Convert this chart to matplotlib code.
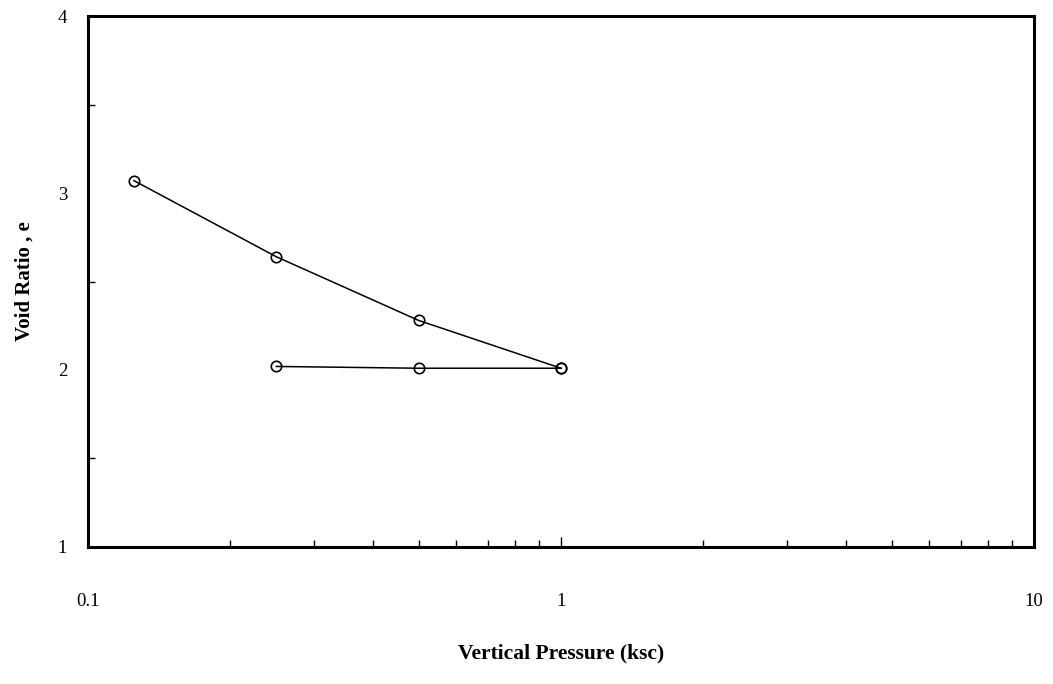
import matplotlib
matplotlib.use("Agg")
import matplotlib.pyplot as plt
from matplotlib.ticker import LogLocator, FixedLocator, NullFormatter, FixedFormatter

# Consolidation test: loading and unloading branches
load_pressure = [0.125, 0.25, 0.5, 1.0]
load_void_ratio = [3.07, 2.64, 2.28, 2.01]
unload_pressure = [1.0, 0.5, 0.25]
unload_void_ratio = [2.01, 2.01, 2.02]

x_ticks = [0.1, 1, 10]
x_tick_labels = ["0.1", "1", "10"]
y_ticks = [1, 2, 3, 4]
y_tick_labels = ["1", "2", "3", "4"]

plt.rcParams["font.family"] = ["Liberation Serif", "DejaVu Serif"]

fig = plt.figure(figsize=(10.53, 6.84), dpi=100)
ax = fig.add_axes([0.0836, 0.2003, 0.8984, 0.7763])

style = dict(color="black", linewidth=1.1, marker="o", markersize=7.5,
             markerfacecolor="none", markeredgecolor="black", markeredgewidth=1.2)
ax.plot(load_pressure, load_void_ratio, **style)
ax.plot(unload_pressure, unload_void_ratio, **style)

ax.set_xscale("log")
ax.set_xlim(0.1, 10)
ax.set_ylim(1, 4)

ax.xaxis.set_major_locator(FixedLocator(x_ticks))
ax.xaxis.set_major_formatter(FixedFormatter(x_tick_labels))
ax.xaxis.set_minor_locator(LogLocator(base=10, subs=range(2, 10)))
ax.xaxis.set_minor_formatter(NullFormatter())
ax.yaxis.set_major_locator(FixedLocator(y_ticks))
ax.yaxis.set_major_formatter(FixedFormatter(y_tick_labels))
ax.yaxis.set_minor_locator(FixedLocator([1.5, 2.5, 3.5]))

for s in ax.spines.values():
    s.set_linewidth(2.2)

ax.tick_params(axis="x", which="major", direction="in", length=7, width=1,
               pad=33, labelsize=13.5)
ax.tick_params(axis="x", which="minor", direction="in", length=5, width=1)
ax.tick_params(axis="y", which="major", direction="in", length=0, width=1,
               pad=15, labelsize=13.5)
ax.tick_params(axis="y", which="minor", direction="in", length=5, width=1)

ax.set_xlabel("Vertical Pressure (ksc)", fontsize=15.5, fontweight="bold", labelpad=24)
ax.set_ylabel("Void Ratio , e", fontsize=15, fontweight="bold", labelpad=17)

fig.savefig("out.png", dpi=100, facecolor="white")
